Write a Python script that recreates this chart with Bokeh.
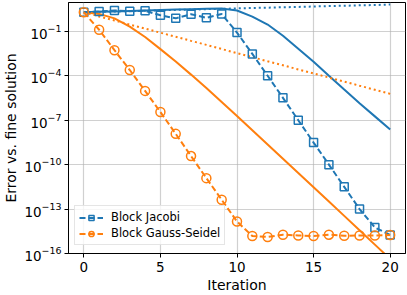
import numpy as np
from bokeh.plotting import figure
from bokeh.models import FixedTicker, Range1d, Legend, LegendItem
from bokeh.embed import file_html
from bokeh.resources import INLINE

# ---- data (stored as log10 of the error) ----
iterations = list(range(21))
jacobi_log10 = [0.29, 0.34, 0.41, 0.36, 0.39, 0.09, -0.12, 0.16, -0.08, 0.17,
                -1.08, -2.52, -4.0, -5.49, -7.0, -8.51, -10.0, -11.5, -13.0, -14.24, -14.75]
gauss_seidel_log10 = [0.29, -0.89, -2.27, -3.61, -5.02, -6.45, -7.92, -9.42, -10.91, -12.37,
                      -13.84, -14.82, -14.88, -14.73, -14.78, -14.82, -14.73, -14.8, -14.78, -14.78, -14.75]
jacobi_solid_log10 = [0.29, 0.32, 0.35, 0.38, 0.41, 0.44, 0.47, 0.50, 0.53, 0.55,
                      0.41, 0.0, -0.54, -1.3, -2.17, -3.05, -4.0, -4.93, -5.85, -6.74, -7.63]
gauss_seidel_solid_log10 = [0.29, 0.18, -0.12, -0.68, -1.38, -2.2, -3.04, -3.92, -4.83, -5.77,
                            -6.72, -7.68, -8.64, -9.6, -10.56, -11.52, -12.49, -13.46, -14.43, -15.4, -16.37]
jacobi_dotted_log10 = [0.29, 0.32, 0.34, 0.37, 0.39, 0.42, 0.45, 0.47, 0.50, 0.52,
                       0.55, 0.58, 0.60, 0.63, 0.65, 0.68, 0.71, 0.73, 0.76, 0.78, 0.81]
gauss_seidel_dotted_log10 = [0.29, 0.01, -0.26, -0.54, -0.81, -1.09, -1.36, -1.64, -1.91, -2.19,
                             -2.47, -2.74, -3.02, -3.29, -3.57, -3.84, -4.12, -4.39, -4.67, -4.94, -5.22]
x_ticks = [0, 5, 10, 15, 20]
y_tick_exponents = [-16, -13, -10, -7, -4, -1]
series_labels = ["Block Jacobi", "Block Gauss-Seidel"]

BLUE = "#1f77b4"
ORANGE = "#ff7f0e"
FONT = "DejaVu Sans"

def vals(a):
    return [10.0 ** v for v in a]

p = figure(width=407, height=295, y_axis_type="log",
           x_range=Range1d(-1, 21), y_range=Range1d(1e-16, 10 ** 0.95),
           output_backend="svg", toolbar_location=None,
           min_border_left=65, min_border_right=2, min_border_top=2, min_border_bottom=40)

p.background_fill_color = "white"
p.border_fill_color = "white"
p.outline_line_color = "black"
p.outline_line_width = 1

# solid lines
p.line(iterations, vals(jacobi_solid_log10), line_color=BLUE, line_width=2)
p.line(iterations, vals(gauss_seidel_solid_log10), line_color=ORANGE, line_width=2)
# dotted lines
p.line(iterations, vals(jacobi_dotted_log10), line_color=BLUE, line_width=2, line_dash="2 3")
p.line(iterations, vals(gauss_seidel_dotted_log10), line_color=ORANGE, line_width=2, line_dash="2 3")

# dashed with markers
jl = p.line(iterations, vals(jacobi_log10), line_color=BLUE, line_width=2, line_dash="6 3")
jm = p.scatter(iterations, vals(jacobi_log10), marker="square", size=8, fill_color=None,
               line_color=BLUE, line_width=1.5)
gl = p.line(iterations, vals(gauss_seidel_log10), line_color=ORANGE, line_width=2, line_dash="6 3")
gm = p.scatter(iterations, vals(gauss_seidel_log10), marker="circle", size=9, fill_color=None,
               line_color=ORANGE, line_width=1.5)

# axes
p.xaxis.ticker = FixedTicker(ticks=x_ticks, minor_ticks=[])
p.yaxis.ticker = FixedTicker(ticks=[10.0 ** e for e in y_tick_exponents], minor_ticks=[])
for ax in (p.xaxis[0], p.yaxis[0]):
    ax.major_label_text_font = FONT
    ax.major_label_text_font_size = "13.5px"
    ax.major_label_text_color = "black"
    ax.axis_label_text_font = FONT
    ax.axis_label_text_font_size = "14px"
    ax.axis_label_text_font_style = "normal"
    ax.axis_label_text_color = "black"
    ax.major_tick_in = 0
    ax.major_tick_out = 4
    ax.minor_tick_in = 0
    ax.minor_tick_out = 0
    ax.axis_line_color = "black"
    ax.major_tick_line_color = "black"
p.xaxis.axis_label = "Iteration"
p.yaxis.axis_label = "Error vs. fine solution"
p.xaxis.major_label_standoff = 4
p.xaxis.axis_label_standoff = 2
p.yaxis.major_label_standoff = 3
p.yaxis.axis_label_standoff = 2

p.grid.grid_line_color = "#b0b0b0"
p.grid.grid_line_alpha = 0.6
p.grid.grid_line_width = 1.2

legend = Legend(items=[LegendItem(label=series_labels[0], renderers=[jl, jm]),
                       LegendItem(label=series_labels[1], renderers=[gl, gm])],
                location=(6, 8))
legend.label_text_font = FONT
legend.label_text_font_size = "11.5px"
legend.label_text_color = "black"
legend.glyph_width = 24
legend.glyph_height = 13
legend.label_standoff = 8
legend.label_height = 13
legend.spacing = 2
legend.padding = 4
legend.margin = 0
legend.border_line_color = "#cccccc"
legend.border_line_width = 1
legend.background_fill_alpha = 0.8
p.add_layout(legend, "center")

open("out.html", "w").write(file_html(p, INLINE))
